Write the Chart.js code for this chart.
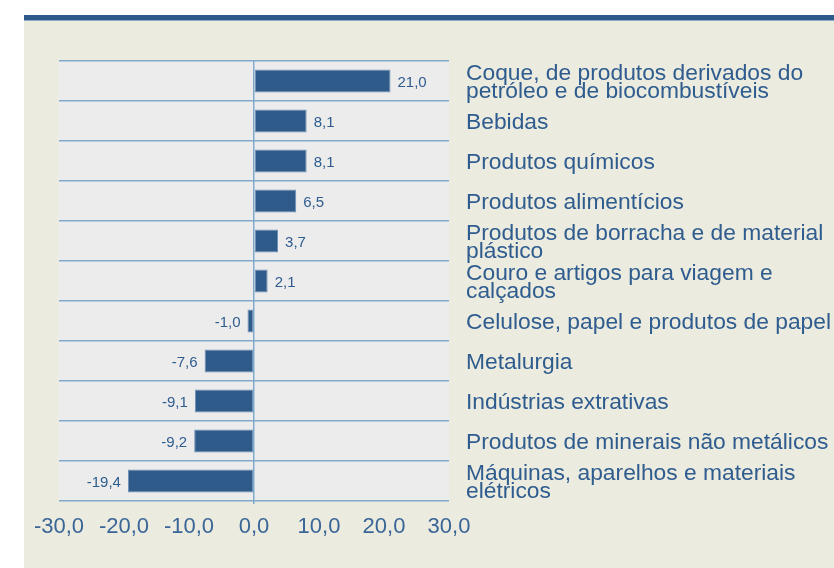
<!DOCTYPE html>
<html><head><meta charset="utf-8">
<script src="https://cdn.jsdelivr.net/npm/chart.js@4/dist/chart.umd.min.js"></script>
<style>
html,body{margin:0;padding:0;background:#fff;}
#wrap{position:relative;width:834px;height:568px;overflow:hidden;}
#topbar{position:absolute;left:24px;top:15px;width:810px;height:5px;background:#2d5a8a;}
#topline{position:absolute;left:24px;top:20px;width:810px;height:1px;background:#8eaac8;}
#panel{position:absolute;left:24px;top:21px;width:810px;height:547px;background:#ebebdf;}
#c{position:absolute;left:0;top:0;}
</style></head><body>
<div id="wrap"><div id="topbar"></div><div id="topline"></div><div id="panel"></div>
<canvas id="c" width="834" height="568"></canvas></div>
<script>
const categories = [
  ["Coque, de produtos derivados do", "petróleo e de biocombustíveis"],
  "Bebidas",
  "Produtos químicos",
  "Produtos alimentícios",
  ["Produtos de borracha e de material", "plástico"],
  ["Couro e artigos para viagem e", "calçados"],
  "Celulose, papel e produtos de papel",
  "Metalurgia",
  "Indústrias extrativas",
  "Produtos de minerais não metálicos",
  ["Máquinas, aparelhos e materiais", "elétricos"]
];
const values = [21.0, 8.1, 8.1, 6.5, 3.7, 2.1, -1.0, -7.6, -9.1, -9.2, -19.4];
const xMin = -30, xMax = 30, xStep = 10;

const FONT = "'Liberation Sans', Arial, Helvetica, sans-serif";
const TEXT = '#2f5c8f';
const GRID = '#80a9cc';
const fmt = v => v.toFixed(1).replace('.', ',');

const plotBg = {
  id: 'plotBg',
  beforeDraw(chart) {
    const a = chart.chartArea, ctx = chart.ctx;
    ctx.save(); ctx.fillStyle = '#ececec';
    ctx.fillRect(a.left, a.top, a.right - a.left, a.bottom - a.top);
    ctx.restore();
  }
};
const valueLabels = {
  id: 'valueLabels',
  afterDatasetsDraw(chart) {
    const ctx = chart.ctx, meta = chart.getDatasetMeta(0);
    ctx.save();
    ctx.font = '15px ' + FONT; ctx.fillStyle = TEXT; ctx.textBaseline = 'middle';
    meta.data.forEach((bar, i) => {
      const v = values[i];
      if (v >= 0) { ctx.textAlign = 'left'; ctx.fillText(fmt(v), bar.x + 7, bar.y + 1.5); }
      else { ctx.textAlign = 'right'; ctx.fillText(fmt(v), bar.x - 7, bar.y + 1.5); }
    });
    ctx.restore();
  }
};

Chart.defaults.font.family = FONT;
new Chart(document.getElementById('c'), {
  type: 'bar',
  data: { labels: categories, datasets: [{
    data: values, backgroundColor: '#2f5b8b', borderColor: '#6f90b6', borderWidth: 1,
    borderSkipped: false, barPercentage: 0.575, categoryPercentage: 1
  }]},
  options: {
    responsive: false, animation: false, indexAxis: 'y',
    layout: { padding: { left: 59, top: 61, right: 0, bottom: 0 } },
    plugins: { legend: { display: false }, tooltip: { enabled: false } },
    scales: {
      x: {
        type: 'linear', min: xMin, max: xMax,
        ticks: { stepSize: xStep, callback: v => fmt(v), color: '#3a6597',
                 font: { size: 22 }, padding: 10, maxRotation: 0, autoSkip: false },
        grid: { color: c => (c.tick && c.tick.value === 0) ? GRID : 'rgba(0,0,0,0)',
                lineWidth: 1.5, tickLength: 3, drawTicks: true },
        border: { display: false },
        afterFit: s => { s.height = 67; }
      },
      y: {
        position: 'right',
        ticks: { color: TEXT, font: { size: 22.8, lineHeight: 0.8 }, padding: 17,
                 crossAlign: 'near', autoSkip: false, labelOffset: 1.5 },
        grid: { color: GRID, lineWidth: 1.5, drawTicks: false, offset: true },
        border: { display: false },
        afterFit: s => { s.width = 385; }
      }
    }
  },
  plugins: [plotBg, valueLabels]
});
</script>
</body></html>
